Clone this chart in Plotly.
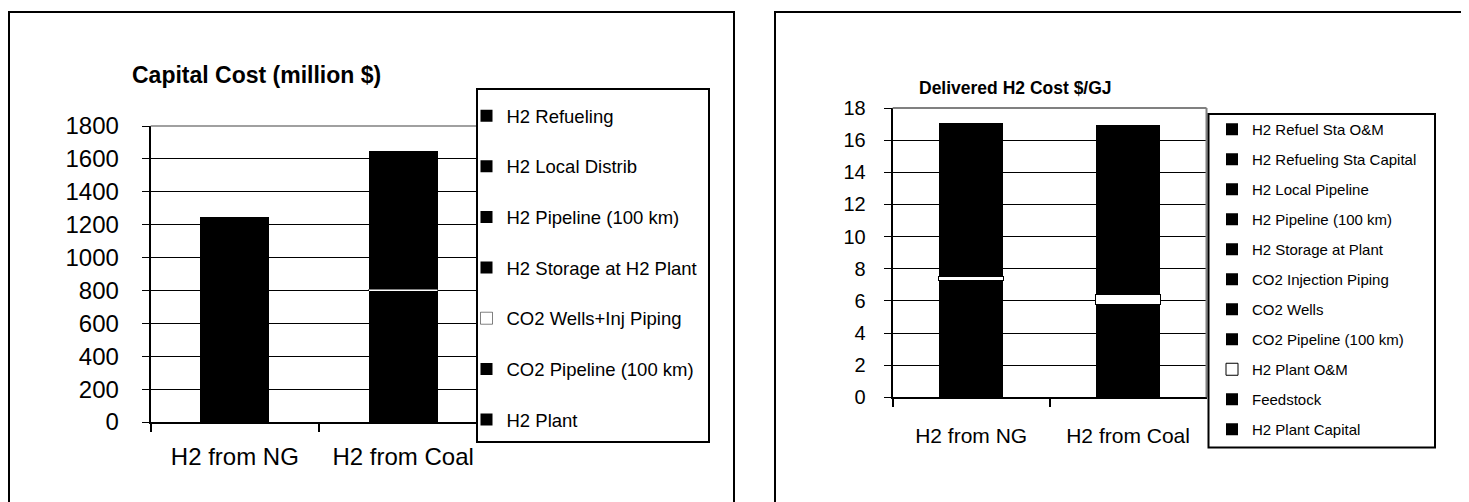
import plotly.graph_objects as go

W, H = 1469, 502
OFF = 8  # page body margin offset


def PX(x):
    return (x - OFF) / W


def PY(y):
    return 1 - (y - OFF) / H


# ---------------- data ----------------
categories = ["H2 from NG", "H2 from Coal"]

# Capital Cost (million $), bottom -> top of stack
cap_series = ["H2 Plant", "CO2 Pipeline (100 km)", "CO2 Wells+Inj Piping",
              "H2 Storage at H2 Plant", "H2 Pipeline (100 km)", "H2 Local Distrib",
              "H2 Refueling"]
cap_ng = [422, 0, 0, 22, 100, 200, 500]
cap_coal = [728, 67, 11, 42, 100, 200, 500]
cap_colors = ["black", "black", "white", "black", "black", "black", "black"]
cap_ticks = [0, 200, 400, 600, 800, 1000, 1200, 1400, 1600, 1800]

# Delivered H2 Cost $/GJ, bottom -> top of stack
cost_series = ["H2 Plant Capital", "Feedstock", "H2 Plant O&M", "CO2 Pipeline (100 km)",
               "CO2 Wells", "CO2 Injection Piping", "H2 Storage at Plant",
               "H2 Pipeline (100 km)", "H2 Local Pipeline", "H2 Refueling Sta Capital",
               "H2 Refuel Sta O&M"]
cost_ng = [2.43, 4.81, 0.25, 0, 0, 0, 0.3, 0.6, 1.8, 4.6, 2.26]
cost_coal = [4.29, 1.46, 0.62, 0.25, 0.1, 0.05, 0.6, 0.6, 1.8, 4.6, 2.56]
cost_colors = ["black", "black", "white", "black", "black", "black", "black",
               "black", "black", "black", "black"]
cost_ticks = [0, 2, 4, 6, 8, 10, 12, 14, 16, 18]

FONT = "Arial, Liberation Sans, sans-serif"

fig = go.Figure()

n1 = len(cap_series)
for i, name in enumerate(cap_series):
    white = cap_colors[i] == "white"
    fig.add_trace(go.Bar(
        x=categories, y=[cap_ng[i], cap_coal[i]], name=name,
        marker=dict(color=cap_colors[i],
                    line=dict(color="black", width=0.5 if white else 0)),
        xaxis="x", yaxis="y", legend="legend", legendgroup="c%d" % i,
        legendrank=100 + (n1 - i),
    ))

n2 = len(cost_series)
for i, name in enumerate(cost_series):
    white = cost_colors[i] == "white"
    fig.add_trace(go.Bar(
        x=categories, y=[cost_ng[i], cost_coal[i]], name=name,
        marker=dict(color=cost_colors[i],
                    line=dict(color="black", width=1 if white else 0)),
        xaxis="x2", yaxis="y2", legend="legend2", legendgroup="d%d" % i,
        legendrank=100 + (n2 - i),
    ))

axis_common = dict(showline=True, linecolor="black", zeroline=False, color="black",
                   automargin=False, fixedrange=True)

fig.update_layout(
    template="none",
    width=W, height=H,
    margin=dict(l=0, r=0, t=0, b=0, pad=0, autoexpand=False),
    paper_bgcolor="white", plot_bgcolor="white",
    barmode="stack", bargap=0.59,
    showlegend=True,
    font=dict(family=FONT, color="black"),
    xaxis=dict(domain=[PX(150.7), PX(487.3)], anchor="y", type="category",
               tickson="boundaries", ticks="outside", ticklen=8, tickwidth=2,
               tickcolor="black", linewidth=2, showgrid=False,
               tickfont=dict(size=24, family=FONT), ticklabelstandoff=12,
               **axis_common),
    yaxis=dict(domain=[PY(422), PY(126)], anchor="x", range=[0, 1800],
               tickvals=cap_ticks, ticks="outside", ticklen=7, tickwidth=1,
               tickcolor="black", linewidth=2, showgrid=True, gridcolor="black",
               gridwidth=1, tickfont=dict(size=24, family=FONT),
               ticklabelstandoff=18, **axis_common),
    xaxis2=dict(domain=[PX(892.7), PX(1206.5)], anchor="y2", type="category",
                tickson="boundaries", ticks="outside", ticklen=8, tickwidth=2,
                tickcolor="black", linewidth=2, showgrid=False,
                tickfont=dict(size=21, family=FONT), ticklabelstandoff=18,
                **axis_common),
    yaxis2=dict(domain=[PY(397.3), PY(108)], anchor="x2", range=[0, 18],
                tickvals=cost_ticks, ticks="outside", ticklen=7, tickwidth=1,
                tickcolor="black", linewidth=2, showgrid=True, gridcolor="black",
                gridwidth=1, tickfont=dict(size=20, family=FONT),
                ticklabelstandoff=14, **axis_common),
    legend=dict(x=PX(466.5), y=PY(97.1), xanchor="left", yanchor="top",
                bgcolor="rgba(0,0,0,0)", borderwidth=0,
                font=dict(size=18.5, family=FONT, color="black"),
                traceorder="grouped", tracegroupgap=23.6),
    legend2=dict(x=PX(1212), y=PY(113), xanchor="left", yanchor="top",
                 bgcolor="rgba(0,0,0,0)", borderwidth=0,
                 font=dict(size=15, family=FONT, color="black"),
                 traceorder="grouped", tracegroupgap=7.5),
)

shapes = [
    # outer chart frames
    dict(type="rect", xref="paper", yref="paper", x0=PX(9), x1=PX(734),
         y0=PY(530), y1=PY(12), line=dict(color="black", width=2), layer="above"),
    dict(type="rect", xref="paper", yref="paper", x0=PX(775), x1=PX(1463.5),
         y0=PY(530), y1=PY(12), line=dict(color="black", width=2), layer="above"),
    # grey plot-area borders (top / right)
    dict(type="line", xref="paper", yref="paper", x0=PX(150.7), x1=PX(487.3),
         y0=PY(126), y1=PY(126), line=dict(color="#808080", width=1.5), layer="above"),
    dict(type="line", xref="paper", yref="paper", x0=PX(892.7), x1=PX(1206.5),
         y0=PY(108), y1=PY(108), line=dict(color="#808080", width=2), layer="above"),
    dict(type="line", xref="paper", yref="paper", x0=PX(1206.5), x1=PX(1206.5),
         y0=PY(397.3), y1=PY(108), line=dict(color="#808080", width=2), layer="above"),
    # legend boxes
    dict(type="rect", xref="paper", yref="paper", x0=PX(477), x1=PX(709),
         y0=PY(442), y1=PY(89), fillcolor="white",
         line=dict(color="black", width=2), layer="above"),
    dict(type="rect", xref="paper", yref="paper", x0=PX(1208.5), x1=PX(1435),
         y0=PY(447.5), y1=PY(114), fillcolor="white",
         line=dict(color="black", width=2), layer="above"),
]
fig.update_layout(shapes=shapes)

fig.add_annotation(text="<b>Capital Cost (million $)</b>", xref="paper", yref="paper",
                   x=PX(257), y=PY(75), xanchor="center", yanchor="middle",
                   showarrow=False, font=dict(size=23, family=FONT, color="black"))
fig.add_annotation(text="<b>Delivered H2 Cost $/GJ</b>", xref="paper", yref="paper",
                   x=PX(1015.5), y=PY(88), xanchor="center", yanchor="middle",
                   showarrow=False, font=dict(size=17.5, family=FONT, color="black"))

fig.write_html("out.html")
